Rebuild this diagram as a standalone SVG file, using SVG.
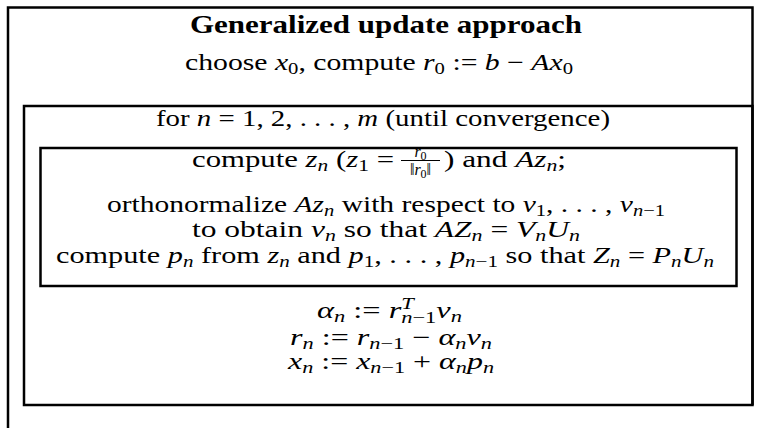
<svg xmlns="http://www.w3.org/2000/svg" width="759" height="428" viewBox="0 0 759 428">
<style>
text{font-family:"Liberation Serif","Times New Roman",serif;font-size:23px;fill:#000}
.b{font-weight:bold;font-size:26px}
.i{font-style:italic}
.s{font-size:16px}
.f{font-size:16px}
.ss{font-size:12px}
.frame{fill:none;stroke:#000;stroke-width:2.5}
</style>
<rect width="759" height="428" fill="#fff"/>
<g id="outer-frame">
<path class="frame" d="M8,428 V7.5 H752.5 V405"/>
</g>
<g id="title">
<text class="b" x="190" y="33" textLength="392" lengthAdjust="spacingAndGlyphs">Generalized update approach</text>
</g>
<g id="init">
<text x="185" y="70" textLength="388" lengthAdjust="spacingAndGlyphs">choose <tspan class="i">x</tspan><tspan class="s" dy="4">0</tspan><tspan dy="-4">, compute </tspan><tspan class="i">r</tspan><tspan class="s" dy="4">0</tspan><tspan dy="-4"> := </tspan><tspan class="i">b</tspan> − <tspan class="i">Ax</tspan><tspan class="s" dy="4">0</tspan></text>
</g>
<g id="loop-box">
<rect class="frame" x="24" y="106" width="728.5" height="299"/>
<text x="156" y="126" textLength="454" lengthAdjust="spacingAndGlyphs">for <tspan class="i">n</tspan> = 1, 2, . . . , <tspan class="i">m</tspan> (until convergence)</text>
</g>
<g id="inner-box">
<rect class="frame" x="40.5" y="148" width="696" height="138"/>
<text x="192" y="167" textLength="202" lengthAdjust="spacingAndGlyphs">compute <tspan class="i">z</tspan><tspan class="s i" dy="4">n</tspan><tspan dy="-4"> (</tspan><tspan class="i">z</tspan><tspan class="s" dy="4">1</tspan><tspan dy="-4"> =</tspan></text>
<text class="f" x="420.5" y="157" text-anchor="middle"><tspan class="i">r</tspan><tspan class="ss" dy="3">0</tspan></text>
<line x1="401" y1="160.5" x2="440" y2="160.5" stroke="#000" stroke-width="1.1"/>
<text class="f" x="420.5" y="175" text-anchor="middle">‖<tspan class="i">r</tspan><tspan class="ss" dy="3">0</tspan><tspan dy="-3">‖</tspan></text>
<text x="444" y="167" textLength="122" lengthAdjust="spacingAndGlyphs">) and <tspan class="i">Az</tspan><tspan class="s i" dy="4">n</tspan><tspan dy="-4">;</tspan></text>
<text x="107" y="212" textLength="558" lengthAdjust="spacingAndGlyphs">orthonormalize <tspan class="i">Az</tspan><tspan class="s i" dy="4">n</tspan><tspan dy="-4"> with respect to </tspan><tspan class="i">v</tspan><tspan class="s" dy="4">1</tspan><tspan dy="-4">, . . . , </tspan><tspan class="i">v</tspan><tspan class="s" dy="4"><tspan class="i">n</tspan>−1</tspan></text>
<text x="192" y="237" textLength="388" lengthAdjust="spacingAndGlyphs">to obtain <tspan class="i">v</tspan><tspan class="s i" dy="4">n</tspan><tspan dy="-4"> so that </tspan><tspan class="i">AZ</tspan><tspan class="s i" dy="4">n</tspan><tspan dy="-4"> = </tspan><tspan class="i">V</tspan><tspan class="s i" dy="4">n</tspan><tspan class="i" dy="-4">U</tspan><tspan class="s i" dy="4">n</tspan></text>
<text x="56" y="263" textLength="658" lengthAdjust="spacingAndGlyphs">compute <tspan class="i">p</tspan><tspan class="s i" dy="4">n</tspan><tspan dy="-4"> from </tspan><tspan class="i">z</tspan><tspan class="s i" dy="4">n</tspan><tspan dy="-4"> and </tspan><tspan class="i">p</tspan><tspan class="s" dy="4">1</tspan><tspan dy="-4">, . . . , </tspan><tspan class="i">p</tspan><tspan class="s" dy="4"><tspan class="i">n</tspan>−1</tspan><tspan dy="-4"> so that </tspan><tspan class="i">Z</tspan><tspan class="s i" dy="4">n</tspan><tspan dy="-4"> = </tspan><tspan class="i">P</tspan><tspan class="s i" dy="4">n</tspan><tspan class="i" dy="-4">U</tspan><tspan class="s i" dy="4">n</tspan></text>
</g>
<g id="updates">
<text x="317" y="318" textLength="145" lengthAdjust="spacingAndGlyphs"><tspan class="i">α</tspan><tspan class="s i" dy="4">n</tspan><tspan dy="-4"> := </tspan><tspan class="i">r</tspan><tspan class="s i" dy="-9">T</tspan><tspan class="s" dx="-9" dy="14"><tspan class="i">n</tspan>−1</tspan><tspan class="i" dy="-5">v</tspan><tspan class="s i" dy="4">n</tspan></text>
<text x="290" y="345" textLength="202" lengthAdjust="spacingAndGlyphs"><tspan class="i">r</tspan><tspan class="s i" dy="4">n</tspan><tspan dy="-4"> := </tspan><tspan class="i">r</tspan><tspan class="s" dy="4"><tspan class="i">n</tspan>−1</tspan><tspan dy="-4"> − </tspan><tspan class="i">α</tspan><tspan class="s i" dy="4">n</tspan><tspan class="i" dy="-4">v</tspan><tspan class="s i" dy="4">n</tspan></text>
<text x="288" y="369" textLength="206" lengthAdjust="spacingAndGlyphs"><tspan class="i">x</tspan><tspan class="s i" dy="4">n</tspan><tspan dy="-4"> := </tspan><tspan class="i">x</tspan><tspan class="s" dy="4"><tspan class="i">n</tspan>−1</tspan><tspan dy="-4"> + </tspan><tspan class="i">α</tspan><tspan class="s i" dy="4">n</tspan><tspan class="i" dy="-4">p</tspan><tspan class="s i" dy="4">n</tspan></text>
</g>
<g id="connectors"/>
</svg>
